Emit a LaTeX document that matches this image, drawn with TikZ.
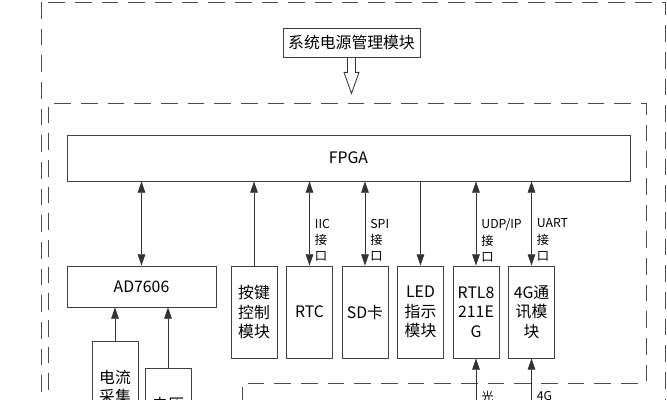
\documentclass[tikz,border=0pt]{standalone}
\usepackage{fontspec}
\setmainfont{Noto Sans CJK SC}
\usetikzlibrary{arrows.meta}

\begin{document}
\begin{tikzpicture}[x=0.03cm, y=-0.03cm, >={Triangle[length=3.4mm, width=2.3mm]},
  every node/.style={font=\fontsize{13.5}{16.5}\selectfont},
  box/.style={draw=black!75, line width=0.7pt, inner sep=0pt, align=center},
  modbox/.style={box, minimum width=1.38cm, minimum height=2.76cm},
  iface/.style={anchor=north west, align=left, inner sep=0pt, xshift=1.5mm, font=\fontsize{10.5}{14}\selectfont},
  zone/.style={draw=black!70, line width=0.7pt, dash pattern=on 0.5cm off 0.3cm},
  link/.style={draw=black!80, line width=0.7pt}]

  \useasboundingbox (0,0) rectangle (667,400);
  \clip (0,0) rectangle (667,400);

  % boards
  \draw[zone] (41,2) rectangle (665,470);
  \draw[zone] (48,470) -- (48,103) -- (646,103) -- (646,383) -- (242,383) -- (242,470);

  % positions
  \node[box, minimum width=4.11cm, minimum height=0.87cm] (pwr) at (351.5,42.5) {系统电源管理模块};
  \node[box, minimum width=16.89cm, minimum height=1.38cm] (fpga) at (348.5,158) {FPGA};
  \node[box, minimum width=4.47cm, minimum height=1.23cm] (ad) at (141.5,286.5) {AD7606};
  \node[modbox] (key) at (254,312) {按键\\控制\\模块};
  \node[modbox] (rtc) at (309.5,312) {RTC};
  \node[modbox] (sd) at (365,312) {SD卡};
  \node[modbox] (led) at (420.5,312) {LED\\指示\\模块};
  \node[modbox] (rtl) at (476,312) {RTL8\\211E\\G};
  \node[modbox] (lte) at (531.5,312) {4G通\\讯模\\块};
  \node[modbox] (cur) at (115,387) {电流\\采集};
  \node[modbox] (vol) at (168,414) {电压\\采集};
  \coordinate (optin) at (476,440);
  \coordinate (ltein) at (531.5,440);

  % power feed
  \draw[link, line join=miter] (pwr.south) ++(-4,0) -- ++(0,15) -- ++(-3.5,0) -- ++(7.5,21)
    -- ++(7.5,-21) -- ++(-3.5,0) -- ++(0,-15);

  % arrows
  \draw[link, <->] (ad.north) -- (ad.north |- fpga.south);          % AD7606 <-> FPGA
  \draw[link, ->] (key.north) -- (key.north |- fpga.south);         % keys -> FPGA
  \draw[link, <->] (rtc.north) -- (rtc.north |- fpga.south) node[iface, pos=0.56] {IIC\\接\\口};
  \draw[link, <->] (sd.north) -- (sd.north |- fpga.south) node[iface, pos=0.56] {SPI\\接\\口};
  \draw[link, <-] (led.north) -- (led.north |- fpga.south);         % FPGA -> LED
  \draw[link, <->] (rtl.north) -- (rtl.north |- fpga.south) node[iface, pos=0.56] {UDP/IP\\接\\口};
  \draw[link, <->] (lte.north) -- (lte.north |- fpga.south) node[iface, pos=0.56] {UART\\接\\口};
  \draw[link, ->] (cur.north) -- (cur.north |- ad.south);           % current -> AD7606
  \draw[link, ->] (vol.north) -- (vol.north |- ad.south);           % voltage -> AD7606
  \draw[link, ->] (optin) -- (rtl.south) node[iface, pos=0.6] {光};
  \draw[link, ->] (ltein) -- (lte.south) node[iface, pos=0.6] {4G};

\end{tikzpicture}
\end{document}
